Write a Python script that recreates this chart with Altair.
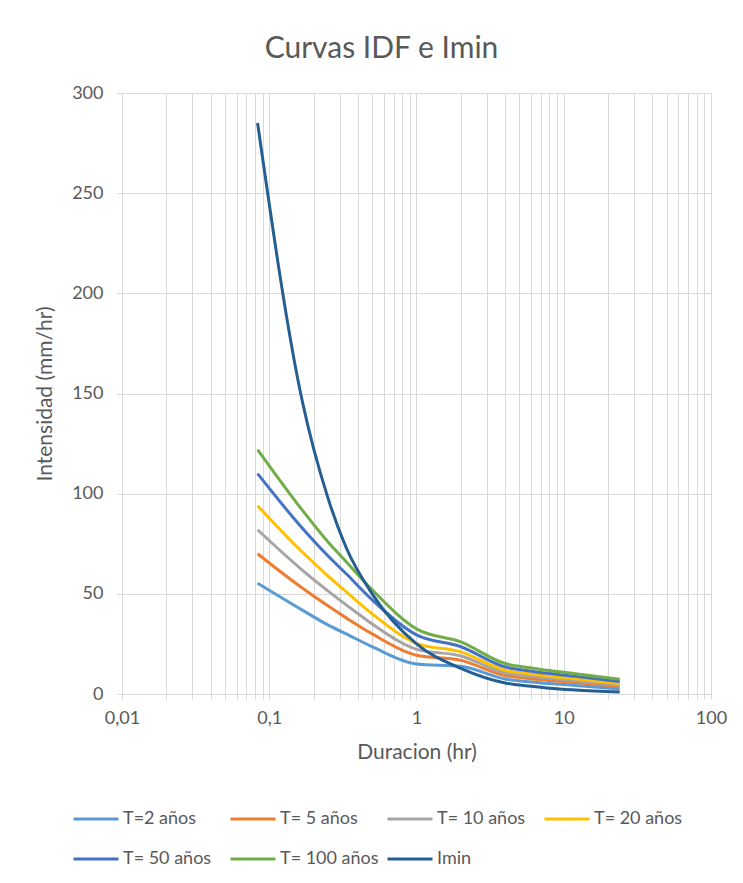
import altair as alt
import pandas as pd

# Durations (hr)
durations = [0.0833, 0.1667, 0.25, 0.3333, 0.5, 1, 2, 4, 6, 8, 12, 24]

# Intensities (mm/hr)
t2 = [55.3, 42.0, 34.5, 30.0, 23.6, 15.0, 13.8, 7.5, 6.0, 5.2, 4.3, 2.5]
t5 = [70.0, 53.0, 44.0, 38.0, 30.0, 19.3, 16.8, 9.2, 7.6, 6.7, 5.7, 3.6]
t10 = [82.0, 62.0, 51.5, 44.5, 35.0, 22.3, 19.0, 10.5, 8.8, 7.8, 6.6, 4.4]
t20 = [94.0, 71.0, 59.0, 51.0, 40.0, 25.3, 21.0, 11.8, 10.0, 8.9, 7.6, 5.2]
t50 = [110.0, 83.0, 69.0, 60.0, 47.0, 29.5, 23.6, 13.5, 11.4, 10.2, 8.8, 6.2]
t100 = [122.0, 92.0, 76.0, 66.0, 52.0, 32.5, 26.0, 15.2, 13.0, 11.7, 10.1, 7.4]
imin = [285.0, 147.0, 98.0, 73.0, 50.0, 25.0, 12.8, 5.5, 3.9, 2.9, 2.0, 1.0]

series = ["T=2 años", "T= 5 años", "T= 10 años", "T= 20 años", "T= 50 años", "T= 100 años", "Imin"]
colors = ["#5B9BD5", "#ED7D31", "#A5A5A5", "#FFC000", "#4472C4", "#70AD47", "#255E91"]
values = [t2, t5, t10, t20, t50, t100, imin]

# Axis ticks
x_grid = [m * 10 ** e for e in range(-2, 2) for m in range(1, 10)] + [100]
x_labels = [0.01, 0.1, 1, 10, 100]
y_ticks = [0, 50, 100, 150, 200, 250, 300]

rows = []
for name, vals in zip(series, values):
    for d, v in zip(durations, vals):
        rows.append({"dur": d, "val": v, "serie": name})
df = pd.DataFrame(rows)

FONT = "Lato"
TXT = "#595959"
GRID = "#D9D9D9"

label_expr = (
    "indexof([" + ",".join(str(v) for v in x_labels) + "], datum.value) >= 0 ? "
    "replace(toString(datum.value), '.', ',') : ''"
)

chart = (
    alt.Chart(df)
    .mark_line(strokeWidth=3, interpolate="monotone", clip=True)
    .encode(
        x=alt.X(
            "dur:Q",
            scale=alt.Scale(type="log", domain=[0.01, 100], nice=False),
            axis=alt.Axis(
                values=x_grid,
                labelExpr=label_expr,
                title="Duracion (hr)",
                titleFont=FONT,
                titleFontSize=21,
                titleFontWeight="normal",
                titleColor=TXT,
                titlePadding=14,
                labelFont=FONT,
                labelFontSize=18,
                labelColor=TXT,
                labelPadding=10,
                labelOverlap=False,
                labelFlush=False,
                tickSize=5,
                tickColor=GRID,
                domainColor=GRID,
                gridColor=GRID,
            ),
        ),
        y=alt.Y(
            "val:Q",
            scale=alt.Scale(domain=[0, 300], nice=False),
            axis=alt.Axis(
                values=y_ticks,
                title="Intensidad (mm/hr)",
                titleFont=FONT,
                titleFontSize=21,
                titleFontWeight="normal",
                titleColor=TXT,
                titlePadding=16,
                labelFont=FONT,
                labelFontSize=18,
                labelColor=TXT,
                labelPadding=14,
                tickSize=5,
                tickColor=GRID,
                domainColor=GRID,
                gridColor=GRID,
            ),
        ),
        color=alt.Color(
            "serie:N",
            scale=alt.Scale(domain=series, range=colors),
            legend=alt.Legend(
                title=None,
                orient="none",
                legendX=-50,
                legendY=702,
                direction="horizontal",
                columns=4,
                gridAlign="all",
                columnPadding=2,
                rowPadding=7,
                symbolType="stroke",
                symbolSize=2025,
                symbolStrokeWidth=3,
                labelFont=FONT,
                labelFontSize=18,
                labelColor=TXT,
                labelOffset=3,
            ),
        ),
    )
    .properties(
        width=589,
        height=601,
        autosize=alt.AutoSizeParams(type="none"),
        padding={"left": 122, "top": 93, "right": 32, "bottom": 189},
        background="white",
        title=alt.TitleParams(
            "Curvas IDF e Imin",
            font=FONT,
            fontSize=30,
            fontWeight="normal",
            color=TXT,
            anchor="middle",
            dx=-35,
            offset=20,
        ),
    )
    .configure_view(stroke=None)
)

chart.save("out.html", embed_options={"renderer": "svg", "actions": False})
